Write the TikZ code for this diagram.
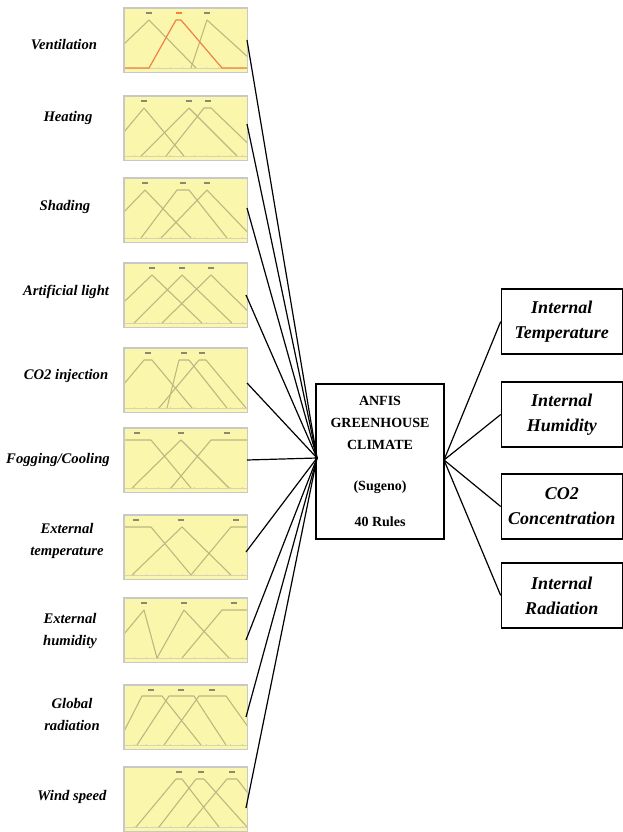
\documentclass[tikz,border=0pt]{standalone}
\usepackage{fontspec}
\setmainfont{Liberation Serif}
\definecolor{panelfill}{RGB}{250,246,172}
\definecolor{panelborder}{RGB}{200,200,200}
\definecolor{mfcol}{RGB}{188,182,128}
\definecolor{mforange}{RGB}{240,128,70}
\definecolor{mflab}{RGB}{140,138,110}
\tikzset{
  panel/.style={fill=panelfill, draw=none, minimum width=92.25pt, minimum height=48pt, inner sep=0pt, anchor=north west},
  pborder/.style={draw=panelborder, line width=1.1pt},
  mf/.style={draw=mfcol, line width=0.8pt, line join=round},
  mfo/.style={draw=mforange, line width=0.9pt, line join=round},
  axisline/.style={draw=mfcol!60, line width=0.6pt},
  inlab/.style={font=\fontsize{11}{16.5}\selectfont\bfseries\itshape, align=center, inner sep=0pt},
  outlab/.style={draw=black, line width=0.8pt, minimum width=90.75pt, minimum height=48.75pt, inner sep=0pt,
     font=\fontsize{13.5}{18.75}\selectfont\bfseries\itshape, align=center},
  anfisbox/.style={draw=black, line width=0.8pt, minimum width=96pt, minimum height=116.25pt, inner sep=0pt,
     font=\fontsize{10.5}{16.5}\selectfont\bfseries, align=center},
  conn/.style={draw=black, line width=0.9pt}
}
\newcommand{\mfpanel}[4]{%
  \node[panel] (#1) at (124,#2) {};
  \begin{scope}[shift={(124,#2)}]
    \begin{scope}
      \clip (0,0) rectangle (123,64);
      \draw[axisline] (0,60) -- (123,60);
      \foreach \tk in {10,22,...,120} {\draw[axisline] (\tk,60) -- (\tk,58.5);}
      #3
      \foreach \lx in {#4} {\fill[mflab] (\lx-3,4.2) rectangle (\lx+3,6.3);}
    \end{scope}
  \end{scope}
  \draw[pborder] (#1.north west) rectangle (#1.south east);
}
\begin{document}
\begin{tikzpicture}[x=0.75pt,y=-0.75pt]
\useasboundingbox (0,0) rectangle (623,832);

% input panels
\mfpanel{p1}{8}{%
  \draw[mf] (-25,60)--(25,12)--(72,60);
  \draw[mf] (67,60)--(83,12)--(136,60);
  \draw[mfo] (0,60)--(25,60)--(52,12)--(57,12)--(98,60)--(123,60);
  \fill[mforange] (52,4.2) rectangle (58,6.3);
}{25,83}
\mfpanel{p2}{96}{%
  \draw[mf] (-20,60)--(20,12)--(60,60);
  \draw[mf] (17,60)--(65,12)--(113,60);
  \draw[mf] (42,60)--(80,12)--(87,12)--(137,60);
}{20,65,84}
\mfpanel{p3}{178}{%
  \draw[mf] (-25,60)--(21,12)--(67,60);
  \draw[mf] (17,60)--(53,12)--(65,12)--(103,60);
  \draw[mf] (37,60)--(83,12)--(129,60);
}{21,59,83}
\mfpanel{p4}{263}{%
  \draw[mf] (-22,60)--(28,12)--(78,60);
  \draw[mf] (10,60)--(58,12)--(108,60);
  \draw[mf] (38,60)--(87,12)--(136,60);
}{28,58,87}
\mfpanel{p5}{348}{%
  \draw[mf] (-20,60)--(20,12)--(28,12)--(68,60);
  \draw[mf] (43,60)--(55,12)--(65,12)--(103,60);
  \draw[mf] (35,60)--(75,12)--(82,12)--(122,60);
}{24,60,78}
\mfpanel{p6}{428}{%
  \draw[mf] (-2,12)--(27,12)--(67,60);
  \draw[mf] (8,60)--(57,12)--(105,60);
  \draw[mf] (47,60)--(87,12)--(125,12);
}{13,57,103}
\mfpanel{p7}{515}{%
  \draw[mf] (-2,12)--(27,12)--(67,60);
  \draw[mf] (8,60)--(58,12)--(107,60);
  \draw[mf] (67,60)--(107,12)--(125,12);
}{12,57,112}
\mfpanel{p8}{598}{%
  \draw[mf] (-20,60)--(20,12)--(33,60);
  \draw[mf] (33,60)--(60,12)--(105,60);
  \draw[mf] (58,60)--(98,12)--(125,12);
}{20,60,110}
\mfpanel{p9}{685}{%
  \draw[mf] (-7,60)--(18,11)--(38,11)--(77,60);
  \draw[mf] (13,60)--(45,11)--(70,11)--(102,60);
  \draw[mf] (40,60)--(75,11)--(102,11)--(137,60);
}{27,57,88}
\mfpanel{p10}{767}{%
  \draw[mf] (12,60)--(52,12)--(58,12)--(95,60);
  \draw[mf] (35,60)--(72,12)--(80,12)--(123,60);
  \draw[mf] (63,60)--(103,12)--(113,12)--(150,60);
}{55,77,108}

% input labels
\node[inlab] (l1) at (64,45) {Ventilation};
\node[inlab] (l2) at (68,118) {Heating};
\node[inlab] (l3) at (65,207) {Shading};
\node[inlab] (l4) at (66,292) {Artificial light};
\node[inlab] (l5) at (66,376) {CO2 injection};
\node[inlab] (l6) at (58,460) {Fogging/Cooling};
\node[inlab] (l7) at (67,541) {External\\temperature};
\node[inlab] (l8) at (70,631) {External\\humidity};
\node[inlab] (l9) at (72,714) {Global\\radiation};
\node[inlab] (l10) at (72,797) {Wind speed};

% central box
\node[anfisbox] (anfis) at (380,461.5) {ANFIS\\GREENHOUSE\\CLIMATE\\[14pt](Sugeno)\\[11pt]40 Rules};

% output boxes
\node[outlab] (o1) at (561.75,321.5) {Internal\\Temperature};
\node[outlab] (o2) at (561.75,414.5) {Internal\\Humidity};
\node[outlab] (o3) at (561.75,506.5) {CO2\\Concentration};
\node[outlab] (o4) at (561.75,595.5) {Internal\\Radiation};

% connector start points
\coordinate (c1) at (247,40);
\coordinate (c2) at (247,124);
\coordinate (c3) at (247,208);
\coordinate (c4) at (246,295);
\coordinate (c5) at (247,383);
\coordinate (c6) at (247,460);
\coordinate (c7) at (246,552);
\coordinate (c8) at (246,640);
\coordinate (c9) at (246,717);
\coordinate (c10) at (246,808);
\coordinate (hub) at (317,458);
\coordinate (hubr) at (444,460);

\foreach \i in {1,...,10} {\draw[conn] (c\i) -- (hub);}
\foreach \i in {1,...,4} {\draw[conn] (hubr) -- (o\i.west);}
\end{tikzpicture}
\end{document}
